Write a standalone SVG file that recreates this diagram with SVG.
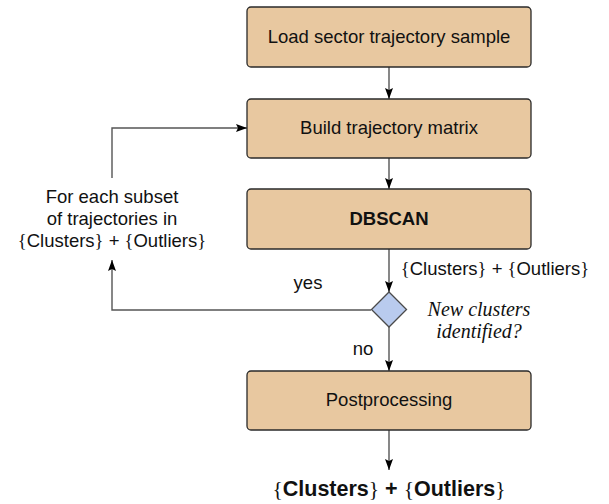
<svg xmlns="http://www.w3.org/2000/svg" width="609" height="504" viewBox="0 0 609 504">
<style>
.box{fill:#E8C8A0;stroke:#2a2a2a;stroke-width:1.3}
.dia{fill:#B9CBEE;stroke:#4a4a4a;stroke-width:1.3}
.t{font-family:"Liberation Sans",Arial,sans-serif;font-size:18.5px;fill:#111;text-anchor:middle}
.b{font-weight:bold}
.br{font-family:"Liberation Serif","Times New Roman",serif;font-weight:normal}
.it{font-family:"Liberation Serif","Times New Roman",serif;font-style:italic;font-size:20px;fill:#111;text-anchor:middle}
.c{fill:none;stroke:#555;stroke-width:1.4}
</style>
<defs>
<marker id="ah" markerWidth="11" markerHeight="8" refX="11" refY="4" orient="auto" markerUnits="userSpaceOnUse" viewBox="0 0 11 8">
<path d="M0,0 L11,4 L0,8 L2,4 Z" fill="#000"/>
</marker>
</defs>
<g id="connectors">
<line class="c" x1="389" y1="67" x2="389" y2="99" marker-end="url(#ah)"/>
<line class="c" x1="389" y1="158" x2="389" y2="189" marker-end="url(#ah)"/>
<line class="c" x1="389" y1="249" x2="389" y2="292" marker-end="url(#ah)"/>
<line class="c" x1="389" y1="327" x2="389" y2="371" marker-end="url(#ah)"/>
<line class="c" x1="389" y1="430" x2="389" y2="470" marker-end="url(#ah)"/>
<polyline class="c" points="371,310 112,310 112,260" marker-end="url(#ah)"/>
<polyline class="c" points="112,178 112,128 247,128" marker-end="url(#ah)"/>
<text class="t" x="308" y="289">yes</text>
<text class="t" x="363" y="355">no</text>
<text class="t" x="495" y="275"><tspan class="br">{</tspan>Clusters<tspan class="br">}</tspan> + <tspan class="br">{</tspan>Outliers<tspan class="br">}</tspan></text>
<text class="t" x="112" y="203">For each subset</text>
<text class="t" x="112" y="225">of trajectories in</text>
<text class="t" x="112" y="247"><tspan class="br">{</tspan>Clusters<tspan class="br">}</tspan> + <tspan class="br">{</tspan>Outliers<tspan class="br">}</tspan></text>
</g>
<g id="n1"><rect class="box" x="247" y="7" width="284" height="60" rx="4"/><text class="t" x="389" y="43">Load sector trajectory sample</text></g>
<g id="n2"><rect class="box" x="247" y="99" width="284" height="59" rx="4"/><text class="t" x="389" y="134">Build trajectory matrix</text></g>
<g id="n3"><rect class="box" x="247" y="189" width="284" height="60" rx="4"/><text class="t b" x="389" y="225">DBSCAN</text></g>
<g id="d1"><polygon class="dia" points="389,292 406.5,309.5 389,327 371.5,309.5"/>
<text class="it" x="479" y="316">New clusters</text>
<text class="it" x="479" y="338">identified?</text></g>
<g id="n4"><rect class="box" x="247" y="371" width="284" height="59" rx="4"/><text class="t" x="389" y="406">Postprocessing</text></g>
<g id="out"><text class="t b" style="font-size:21.5px" x="389" y="496"><tspan class="br">{</tspan>Clusters<tspan class="br">}</tspan> + <tspan class="br">{</tspan>Outliers<tspan class="br">}</tspan></text></g>
</svg>
